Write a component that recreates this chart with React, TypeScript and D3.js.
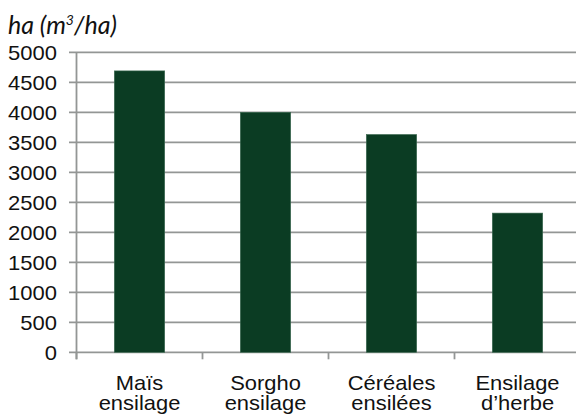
import React from "react";
import * as d3 from "d3";

const categories: string[][] = [
  ["Maïs", "ensilage"],
  ["Sorgho", "ensilage"],
  ["Céréales", "ensilées"],
  ["Ensilage", "d’herbe"],
];
const values: number[] = [4690, 4000, 3630, 2320];
const yTicks: number[] = [0, 500, 1000, 1500, 2000, 2500, 3000, 3500, 4000, 4500, 5000];

const W = 576;
const H = 416;
const left = 76.5;
const bandW = 126;
const top = 52.3;
const bottom = 352.3;

export default function App() {
  const x = d3
    .scaleBand<number>()
    .domain(d3.range(categories.length))
    .range([left, left + bandW * categories.length])
    .paddingInner(0.6)
    .paddingOuter(0.3);
  const y = d3.scaleLinear().domain([0, 5000]).range([bottom, top]);
  const grid = "#939695";
  const barColor = "#0b3c23";
  const font = "'Liberation Sans', Arial, sans-serif";

  return (
    <svg
      width={W}
      height={H}
      style={{ position: "absolute", left: 0, top: 0, background: "#fff" }}
    >
      <text
        x={8}
        y={34}
        fontFamily="Lato, 'Open Sans', sans-serif"
        fontStyle="italic"
        fontSize={25}
        fill="#111"
      >
        ha (m<tspan dy={-9} fontSize={14}>3</tspan>
        <tspan dy={9}>/ha)</tspan>
      </text>
      {yTicks.map((t) => (
        <g key={t}>
          <line x1={69} x2={W} y1={y(t)} y2={y(t)} stroke={grid} strokeWidth={1.8} />
          <text
            x={57}
            y={y(t) + 7.5}
            textAnchor="end"
            fontFamily={font}
            fontSize={20}
            transform={`translate(57,0) scale(1.1,1) translate(-57,0)`}
            fill="#111"
          >
            {t}
          </text>
        </g>
      ))}
      <line x1={left} x2={left} y1={top} y2={bottom + 7} stroke={grid} strokeWidth={1.8} />
      {d3.range(categories.length + 1).map((i) => (
        <line
          key={i}
          x1={left + i * bandW}
          x2={left + i * bandW}
          y1={bottom}
          y2={bottom + 7}
          stroke={grid}
          strokeWidth={1.8}
        />
      ))}
      {values.map((v, i) => (
        <rect
          key={i}
          x={x(i)!}
          y={y(v)}
          width={x.bandwidth()}
          height={bottom - y(v)}
          fill={barColor}
          stroke="#3d6a52"
          strokeWidth={0.6}
        />
      ))}
      {categories.map((lines, i) => {
        const cx = x(i)! + x.bandwidth() / 2;
        return (
          <text
            key={i}
            textAnchor="middle"
            fontFamily={font}
            fontSize={20.5}
            fill="#111"
            transform={`translate(${cx},0) scale(1.07,1)`}
          >
            {lines.map((l, j) => (
              <tspan key={j} x={0} y={390 + j * 20.5}>
                {l}
              </tspan>
            ))}
          </text>
        );
      })}
    </svg>
  );
}
